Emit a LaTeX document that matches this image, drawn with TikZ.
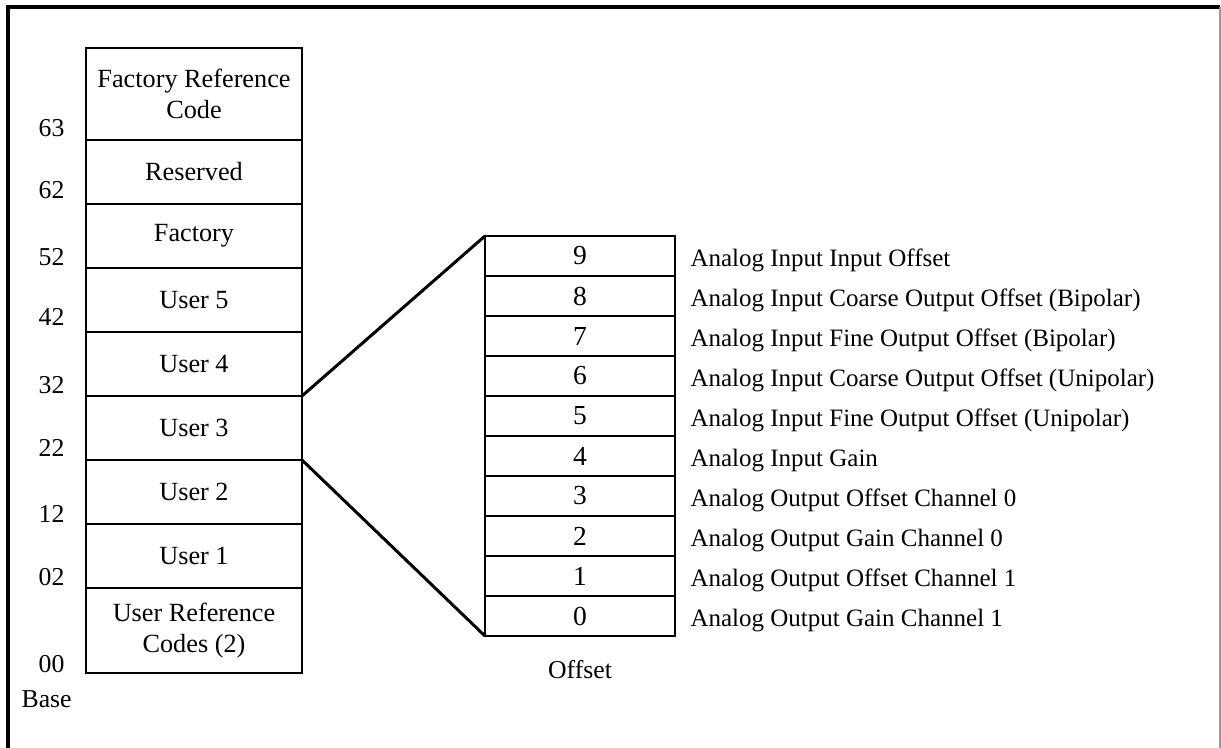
\documentclass[tikz,border=0pt]{standalone}
\usepackage{fontspec}
\setmainfont{Liberation Serif}
\usetikzlibrary{positioning}

\begin{document}
\begin{tikzpicture}[x=1pt, y=1pt,
    blk/.style={draw, line width=1pt, minimum width=86.4pt, outer sep=0pt, inner sep=0pt, align=center, font=\fontsize{10.5}{12.6}\selectfont},
    seg/.style={blk, minimum height=25.6pt},
    ofs/.style={draw, line width=1pt, minimum width=76pt, minimum height=16pt, outer sep=0pt, inner sep=0pt, font=\fontsize{11}{13}\selectfont},
    addr/.style={inner sep=0pt, font=\fontsize{10.3}{12}\selectfont},
    lbl/.style={inner sep=0pt, anchor=base west, yshift=-4.2pt, font=\fontsize{10}{12}\selectfont},
    link/.style={line width=1.2pt}]
  \useasboundingbox (0,0) rectangle (488.4,-299.2);
  % frame
  \draw[line width=1.3pt] (3.2,-299.2) -- (3.2,-2.8) -- (488,-2.8);
  \draw[black!40, line width=0.5pt] (488,-2.8) -- (488,-299.2);

  % calibration areas
  \node[blk, minimum height=36.8pt, anchor=north west] (ref) at (34.4,-19.2) {Factory Reference\\Code};
  \node[seg, below=0pt of ref] (rsv) {Reserved};
  \node[seg, below=0pt of rsv] (fac) {Factory};
  \node[seg, below=0pt of fac] (u5) {User 5};
  \node[seg, below=0pt of u5] (u4) {User 4};
  \node[seg, below=0pt of u4] (u3) {User 3};
  \node[seg, below=0pt of u3] (u2) {User 2};
  \node[seg, below=0pt of u2] (u1) {User 1};
  \node[blk, minimum height=34pt, below=0pt of u1] (urc) {User Reference\\Codes (2)};

  % base addresses
  \node[addr, left=8.4pt of ref.south west, anchor=south east, yshift=1pt] (a63) {63};
  \node[addr, left=8.4pt of rsv.south west, anchor=south east, yshift=2pt] (a62) {62};
  \node[addr, left=8.4pt of fac.south west, anchor=south east, yshift=0.5pt] (a52) {52};
  \node[addr, left=8.4pt of u5.south west, anchor=south east, yshift=2.5pt] (a42) {42};
  \node[addr, left=8.4pt of u4.south west, anchor=south east, yshift=0.5pt] (a32) {32};
  \node[addr, left=8.4pt of u3.south west, anchor=south east, yshift=1pt] (a22) {22};
  \node[addr, left=8.4pt of u2.south west, anchor=south east, yshift=0.5pt] (a12) {12};
  \node[addr, left=8.4pt of u1.south west, anchor=south east, yshift=0.5pt] (a02) {02};
  \node[addr, left=8.4pt of urc.south west, anchor=south east] (a00) {00};
  \node[addr, below=6.8pt of a00, xshift=-2pt] (base) {Base};

  % offsets in one area
  \node[ofs, anchor=north west] (o9) at (194,-94.4) {9};
  \node[ofs, below=0pt of o9] (o8) {8};
  \node[ofs, below=0pt of o8] (o7) {7};
  \node[ofs, below=0pt of o7] (o6) {6};
  \node[ofs, below=0pt of o6] (o5) {5};
  \node[ofs, below=0pt of o5] (o4) {4};
  \node[ofs, below=0pt of o4] (o3) {3};
  \node[ofs, below=0pt of o3] (o2) {2};
  \node[ofs, below=0pt of o2] (o1) {1};
  \node[ofs, below=0pt of o1] (o0) {0};
  \node[addr, below=9.5pt of o0] (ofsl) {Offset};

  \node[right=6pt of o9, lbl] (l9) {Analog Input Input Offset};
  \node[right=6pt of o8, lbl] (l8) {Analog Input Coarse Output Offset (Bipolar)};
  \node[right=6pt of o7, lbl] (l7) {Analog Input Fine Output Offset (Bipolar)};
  \node[right=6pt of o6, lbl] (l6) {Analog Input Coarse Output Offset (Unipolar)};
  \node[right=6pt of o5, lbl] (l5) {Analog Input Fine Output Offset (Unipolar)};
  \node[right=6pt of o4, lbl] (l4) {Analog Input Gain};
  \node[right=6pt of o3, lbl] (l3) {Analog Output Offset Channel 0};
  \node[right=6pt of o2, lbl] (l2) {Analog Output Gain Channel 0};
  \node[right=6pt of o1, lbl] (l1) {Analog Output Offset Channel 1};
  \node[right=6pt of o0, lbl] (l0) {Analog Output Gain Channel 1};

  % zoom lines
  \draw[link] (u3.north east) -- (o9.north west);
  \draw[link] (u3.south east) -- (o0.south west);
\end{tikzpicture}
\end{document}
